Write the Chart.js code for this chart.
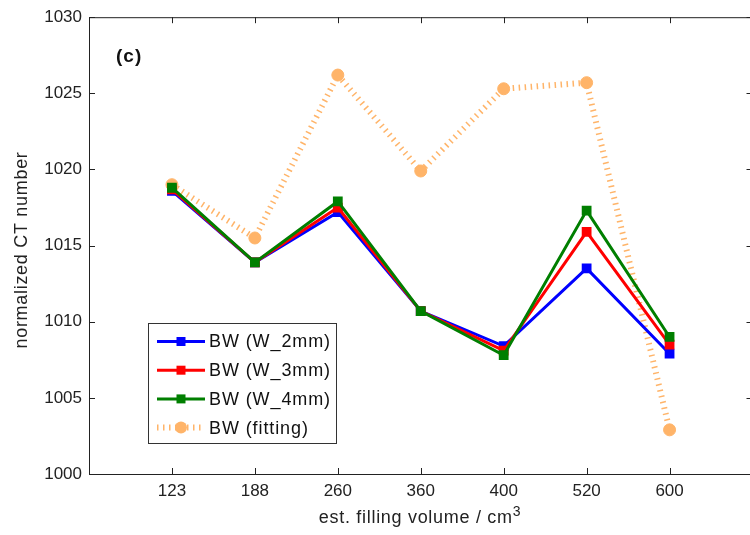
<!DOCTYPE html>
<html>
<head>
<meta charset="utf-8">
<script src="https://cdn.jsdelivr.net/npm/chart.js@4"></script>
<style>
  html, body { margin: 0; padding: 0; background: #fff; overflow: hidden; }
  #wrap { width: 760px; height: 535px; }
</style>
</head>
<body>
<div id="wrap"><canvas id="chart" width="760" height="535"></canvas></div>
<script>
// dane
var volumes = ["123", "188", "260", "360", "400", "520", "600"];
var bwW2mm = [1018.6, 1013.9, 1017.2, 1010.7, 1008.4, 1013.5, 1007.9];
var bwW3mm = [1018.7, 1013.9, 1017.5, 1010.7, 1008.1, 1015.9, 1008.5];
var bwW4mm = [1018.8, 1013.9, 1017.9, 1010.7, 1007.8, 1017.3, 1009.0];
var bwFitting = [1019.0, 1015.5, 1026.2, 1019.9, 1025.3, 1025.7, 1002.9];
var yTicks = [1000, 1005, 1010, 1015, 1020, 1025, 1030];

var FONT = "'Liberation Sans', Arial, sans-serif";
var ORANGE = "rgb(255,180,105)";

function toPoints(values) {
  return values.map(function (v, i) {
    return { x: i + 1, y: v };
  });
}

function solidSet(label, values, color, order) {
  return {
    label: label,
    data: toPoints(values),
    borderColor: color,
    backgroundColor: color,
    borderWidth: 3,
    pointStyle: "rect",
    pointRadius: 5.5,
    pointBorderWidth: 2,
    pointBackgroundColor: color,
    pointBorderColor: color,
    tension: 0,
    order: order,
  };
}

// ramka, znaczniki osi, legenda, etykieta (c) i tytuły osi
var decorPlugin = {
  id: "decor",
  afterDraw: function (chart) {
    var ctx = chart.ctx;
    var area = chart.chartArea;
    var xs = chart.scales.x;
    var ys = chart.scales.y;
    ctx.save();
    ctx.strokeStyle = "#222";
    ctx.lineWidth = 1;
    ctx.beginPath();
    ctx.moveTo(area.left, area.top + 0.5);
    ctx.lineTo(area.right, area.top + 0.5);
    for (var i = 1; i <= volumes.length; i++) {
      var px = Math.round(xs.getPixelForValue(i)) + 0.5;
      ctx.moveTo(px, area.bottom);
      ctx.lineTo(px, area.bottom - 6);
      ctx.moveTo(px, area.top);
      ctx.lineTo(px, area.top + 6);
    }
    yTicks.forEach(function (t) {
      var py = Math.round(ys.getPixelForValue(t)) + 0.5;
      ctx.moveTo(area.left, py);
      ctx.lineTo(area.left + 6, py);
      ctx.moveTo(area.right, py);
      ctx.lineTo(area.right - 6, py);
    });
    ctx.stroke();

    ctx.letterSpacing = "0.7px";

    // tytuł osi x
    ctx.fillStyle = "#222";
    ctx.textBaseline = "alphabetic";
    ctx.textAlign = "left";
    ctx.font = "18px " + FONT;
    var main = "est. filling volume / cm";
    var wMain = ctx.measureText(main).width;
    ctx.font = "14px " + FONT;
    var wSup = ctx.measureText("3").width;
    var tx = 420 - (wMain + wSup) / 2;
    ctx.font = "18px " + FONT;
    ctx.fillText(main, tx, 523);
    ctx.font = "14px " + FONT;
    ctx.fillText("3", tx + wMain, 516);

    // tytuł osi y
    ctx.save();
    ctx.translate(27, 250);
    ctx.rotate(-Math.PI / 2);
    ctx.font = "18px " + FONT;
    ctx.textAlign = "center";
    ctx.fillText("normalized CT number", 0, 0);
    ctx.restore();

    // etykieta panelu
    ctx.fillStyle = "#111";
    ctx.letterSpacing = "1px";
    ctx.font = "bold 19px " + FONT;
    ctx.textAlign = "left";
    ctx.textBaseline = "middle";
    ctx.fillText("(c)", 116, 57);

    // legenda
    var bx = 148, by = 323, bw = 188, bh = 120;
    ctx.fillStyle = "#fff";
    ctx.fillRect(bx, by, bw, bh);
    ctx.strokeStyle = "#333";
    ctx.lineWidth = 1;
    ctx.strokeRect(bx + 0.5, by + 0.5, bw, bh);
    ctx.font = "18px " + FONT;
    ctx.letterSpacing = "0.9px";
    chart.data.datasets.forEach(function (ds, k) {
      var ry = by + 18.5 + k * 28.7;
      ctx.save();
      ctx.strokeStyle = ds.borderColor;
      ctx.lineWidth = ds.borderWidth;
      ctx.setLineDash(ds.borderDash || []);
      ctx.beginPath();
      ctx.moveTo(bx + 9, ry);
      ctx.lineTo(bx + 57, ry);
      ctx.stroke();
      ctx.restore();
      ctx.fillStyle = ds.borderColor;
      ctx.beginPath();
      if (ds.pointStyle === "rect") {
        ctx.rect(bx + 33 - 4.5, ry - 4.5, 9, 9);
      } else {
        ctx.arc(bx + 33, ry, 6, 0, Math.PI * 2);
      }
      ctx.fill();
      ctx.fillStyle = "#111";
      ctx.fillText(ds.label, bx + 61, ry + 1);
    });
    ctx.restore();
  },
};

var ctx = document.getElementById("chart").getContext("2d");
var chart = new Chart(ctx, {
  type: "line",
  data: {
    datasets: [
      solidSet("BW (W_2mm)", bwW2mm, "#0000ff", 3),
      solidSet("BW (W_3mm)", bwW3mm, "#ff0000", 2),
      solidSet("BW (W_4mm)", bwW4mm, "#007f00", 1),
      {
        label: "BW (fitting)",
        data: toPoints(bwFitting),
        borderColor: ORANGE,
        backgroundColor: ORANGE,
        borderWidth: 6,
        borderDash: [1.5, 4.5],
        borderCapStyle: "butt",
        pointStyle: "circle",
        pointRadius: 6,
        pointBorderWidth: 1,
        pointBackgroundColor: ORANGE,
        pointBorderColor: ORANGE,
        tension: 0,
        order: 10,
      },
    ],
  },
  options: {
    responsive: false,
    animation: false,
    layout: { padding: { top: 16, right: 5, left: 0, bottom: 0 } },
    plugins: { legend: { display: false }, tooltip: { enabled: false } },
    scales: {
      x: {
        type: "linear",
        min: 0,
        max: 8,
        afterBuildTicks: function (scale) {
          scale.ticks = volumes.map(function (v, i) {
            return { value: i + 1 };
          });
        },
        afterFit: function (scale) {
          scale.height = 61;
        },
        grid: { display: false, drawTicks: false },
        border: { display: true, color: "#222", width: 1 },
        ticks: {
          autoSkip: false,
          maxRotation: 0,
          padding: 7,
          color: "#222",
          font: { family: FONT, size: 17 },
          callback: function (value) {
            return volumes[value - 1];
          },
        },
        title: { display: false },
      },
      y: {
        min: 1000,
        max: 1030,
        afterBuildTicks: function (scale) {
          scale.ticks = yTicks.map(function (v) {
            return { value: v };
          });
        },
        afterFit: function (scale) {
          scale.width = 89;
        },
        grid: { display: false, drawTicks: false },
        border: { display: true, color: "#222", width: 1 },
        ticks: {
          padding: 7,
          color: "#222",
          font: { family: FONT, size: 17 },
          callback: function (value) {
            return String(value);
          },
        },
        title: { display: false },
      },
    },
  },
  plugins: [decorPlugin],
});
</script>
</body>
</html>
